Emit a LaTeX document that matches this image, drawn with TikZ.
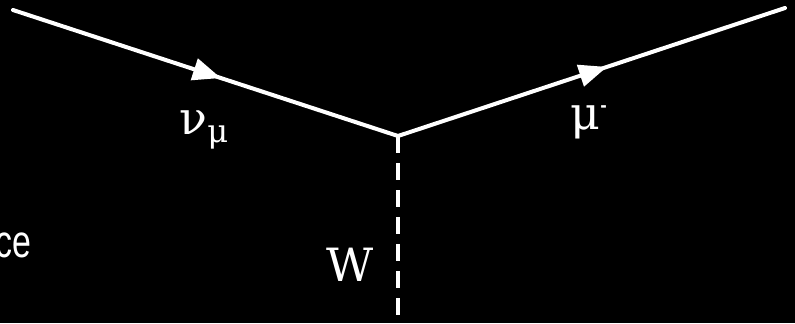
\documentclass[tikz,border=0pt]{standalone}
\usepackage{graphicx}
\usepackage{fontspec}
\setmainfont{DejaVu Serif}
\newfontfamily\sidefont{Liberation Sans}
\usetikzlibrary{calc}
\usetikzlibrary{arrows.meta}
\usetikzlibrary{decorations.markings}

\tikzset{
  fermion/.style={white, line width=4bp, line cap=round, postaction={decorate},
    decoration={markings, mark=at position 0.54 with {\arrow{Triangle[length=28bp,width=22bp]}}}},
  boson/.style={white, line width=4bp, dash pattern=on 17bp off 10bp},
  particle/.style={white, inner sep=0pt, font=\fontsize{46}{52}\selectfont}
}

\begin{document}
\begin{tikzpicture}[x=1bp,y=-1bp]
    % --- Fond ---
    \fill[black] (0,0) rectangle (795,323);
    \useasboundingbox (0,0) rectangle (795,323);

    % --- Sommet et extrémités ---
    \coordinate (A) at (13,10);
    \coordinate (V) at (398,136);
    \coordinate (B) at (785,8);
    \coordinate (C) at (398,335);

    % --- Lignes de fermions ---
    \draw[fermion] (A) -- (V);
    \draw[fermion] (V) -- (B);

    % --- Propagateur W ---
    \draw[boson] (V) -- (C);

    % --- Étiquettes ---
    \node[particle] (nu) at (204,130) {ν\textsubscript{μ}};
    \node[particle] (mu) at (589,122) {μ\textsuperscript{\raisebox{0.15em}{\scalebox{0.6}[1]{-}}}};
    \node[particle] (w) at (350,265) {W};
    \node[white, inner sep=0pt, anchor=base east, font=\sidefont\fontsize{46}{52}\selectfont] (side) at (31.5,257) {\scalebox{0.74}[1]{ce}};

\end{tikzpicture}
\end{document}
